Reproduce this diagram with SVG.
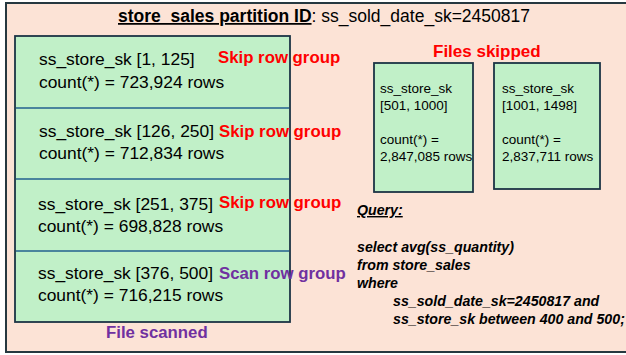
<svg xmlns="http://www.w3.org/2000/svg" width="626" height="355" viewBox="0 0 626 355">
<style>
text{font-family:"Liberation Sans",Arial,sans-serif;fill:#000}
.row{font-size:17.4px}
.skip{font-size:16.8px;font-weight:bold;fill:#ff0000}
.scan{font-size:16.8px;font-weight:bold;fill:#7030a0}
.small{font-size:13.5px}
.q{font-size:14.2px;font-weight:bold;font-style:italic}
.green{fill:#c1f0c8;stroke:#1c3445;stroke-width:1.8}
.div{stroke:#22608f;stroke-width:1.6}
</style>
<g id="partition">
<rect x="6" y="3" width="630" height="349" fill="#fce3d6" stroke="#263840" stroke-width="2"/>
<text x="118" y="22" style="font-size:17.5px"><tspan font-weight="bold" text-decoration="underline">store_sales partition ID</tspan>: ss_sold_date_sk=2450817</text>
</g>
<g id="file-scanned">
<rect class="green" x="15" y="36" width="275" height="286"/>
<line class="div" x1="16" y1="108" x2="289" y2="108"/>
<line class="div" x1="16" y1="179" x2="289" y2="179"/>
<line class="div" x1="16" y1="251" x2="289" y2="251"/>
<text class="scan" x="106" y="338">File scanned</text>
</g>
<g id="row-group-1">
<text class="row" x="39" y="65">ss_store_sk [1, 125]</text>
<text class="row" x="39" y="88">count(*) = 723,924 rows</text>
<text class="skip" x="218" y="63">Skip row group</text>
</g>
<g id="row-group-2">
<text class="row" x="39" y="137">ss_store_sk [126, 250]</text>
<text class="row" x="39" y="159">count(*) = 712,834 rows</text>
<text class="skip" x="219" y="137">Skip row group</text>
</g>
<g id="row-group-3">
<text class="row" x="38" y="210">ss_store_sk [251, 375]</text>
<text class="row" x="38" y="232">count(*) = 698,828 rows</text>
<text class="skip" x="219" y="208">Skip row group</text>
</g>
<g id="row-group-4">
<text class="row" x="38" y="279">ss_store_sk [376, 500]</text>
<text class="row" x="38" y="301">count(*) = 716,215 rows</text>
<text class="scan" x="219" y="279">Scan row group</text>
</g>
<g id="files-skipped">
<text class="skip" x="433" y="57" style="font-size:17px">Files skipped</text>
</g>
<g id="file-skipped-1">
<rect class="green" x="374" y="63" width="99" height="129"/>
<text class="small" x="380" y="93">ss_store_sk</text>
<text class="small" x="380" y="110">[501, 1000]</text>
<text class="small" x="380" y="144">count(*) =</text>
<text class="small" x="380" y="161">2,847,085 rows</text>
</g>
<g id="file-skipped-2">
<rect class="green" x="494" y="63" width="106" height="126"/>
<text class="small" x="502" y="93">ss_store_sk</text>
<text class="small" x="502" y="110">[1001, 1498]</text>
<text class="small" x="502" y="144">count(*) =</text>
<text class="small" x="502" y="161">2,837,711 rows</text>
</g>
<g id="query">
<text class="q" x="357" y="215" text-decoration="underline">Query:</text>
<text class="q" x="357" y="252">select avg(ss_quantity)</text>
<text class="q" x="357" y="270">from store_sales</text>
<text class="q" x="357" y="288">where</text>
<text class="q" x="393" y="306">ss_sold_date_sk=2450817 and</text>
<text class="q" x="393" y="324">ss_store_sk between 400 and 500;</text>
</g>
<g id="connectors"/>
</svg>
